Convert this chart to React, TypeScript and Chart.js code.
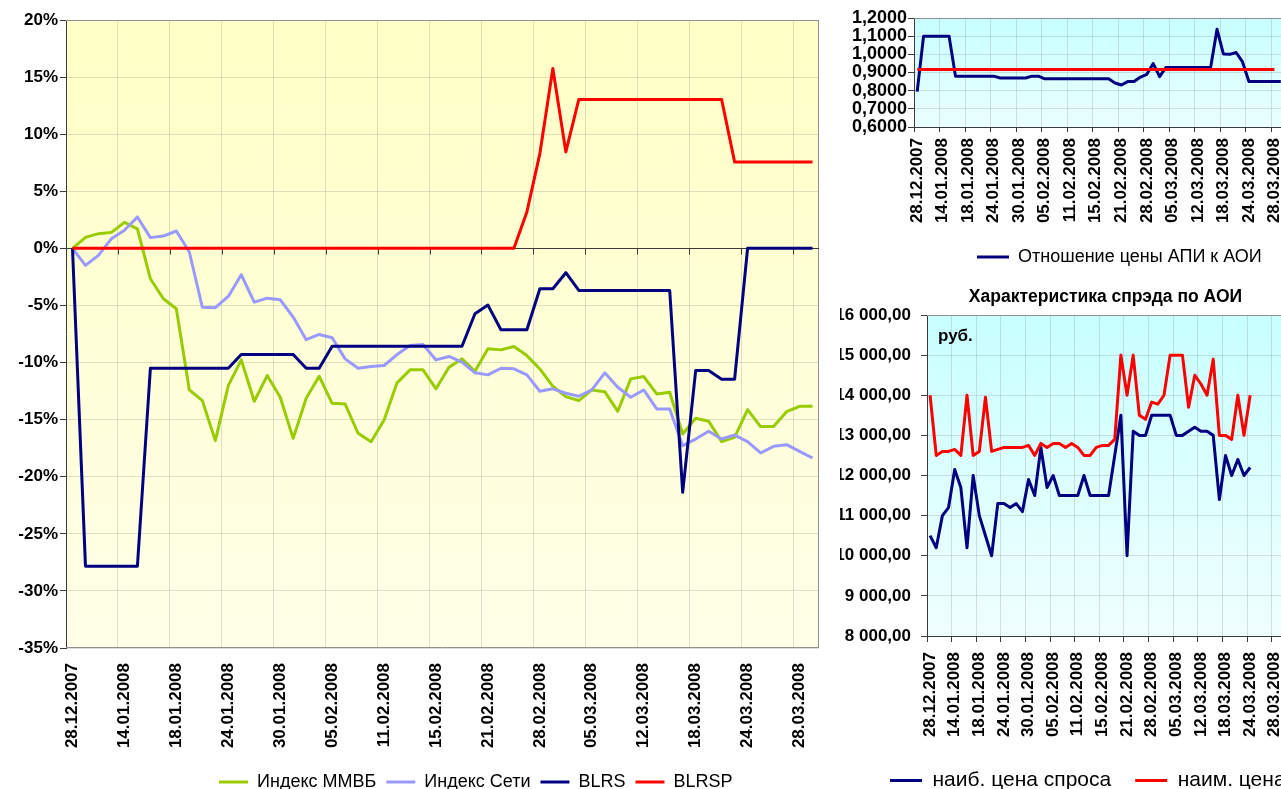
import React, { useEffect, useRef } from 'react';
import { Chart, registerables } from 'chart.js';

Chart.register(...registerables);

const FONT = "'Liberation Sans', Arial, Helvetica, sans-serif";
Chart.defaults.font.family = FONT;
Chart.defaults.color = '#000';

// ---------- data ----------
const dates = [
  '28.12.2007', '09.01.2008', '10.01.2008', '11.01.2008', '14.01.2008', '15.01.2008', '16.01.2008', '17.01.2008',
  '18.01.2008', '21.01.2008', '22.01.2008', '23.01.2008', '24.01.2008', '25.01.2008', '28.01.2008', '29.01.2008',
  '30.01.2008', '31.01.2008', '01.02.2008', '04.02.2008', '05.02.2008', '06.02.2008', '07.02.2008', '08.02.2008',
  '11.02.2008', '12.02.2008', '13.02.2008', '14.02.2008', '15.02.2008', '18.02.2008', '19.02.2008', '20.02.2008',
  '21.02.2008', '22.02.2008', '25.02.2008', '26.02.2008', '28.02.2008', '29.02.2008', '03.03.2008', '04.03.2008',
  '05.03.2008', '06.03.2008', '07.03.2008', '11.03.2008', '12.03.2008', '13.03.2008', '14.03.2008', '17.03.2008',
  '18.03.2008', '19.03.2008', '20.03.2008', '21.03.2008', '24.03.2008', '25.03.2008', '26.03.2008', '27.03.2008',
  '28.03.2008', '31.03.2008',
];

// main chart, % change
const mmvb = [
  0, 0.96, 1.29, 1.4, 2.28, 1.7, -2.66, -4.41, -5.29, -12.4,
  -13.33, -16.84, -12.02, -9.77, -13.39, -11.14, -13.04, -16.64, -13.13, -11.2,
  -13.57, -13.63, -16.2, -16.93, -15.03, -11.78, -10.64, -10.64, -12.3, -10.41,
  -9.68, -10.76, -8.8, -8.89, -8.6, -9.39, -10.56, -12.08, -12.98, -13.33,
  -12.4, -12.55, -14.27, -11.43, -11.23, -12.75, -12.6, -16.26, -14.88, -15.14,
  -16.93, -16.55, -14.12, -15.61, -15.61, -14.3, -13.83, -13.83,
];
const seti = [
  0, -1.49, -0.61, 0.85, 1.58, 2.75, 0.94, 1.08, 1.52, -0.32,
  -5.15, -5.2, -4.21, -2.31, -4.71, -4.36, -4.5, -6.02, -8.0, -7.54,
  -7.83, -9.68, -10.5, -10.35, -10.26, -9.3, -8.5, -8.42, -9.77, -9.47,
  -9.97, -10.9, -11.08, -10.5, -10.55, -11.08, -12.51, -12.3, -12.69, -12.95,
  -12.4, -10.9, -12.16, -13.04, -12.4, -14.06, -14.06, -17.28, -16.7, -16.02,
  -16.7, -16.35, -16.93, -17.92, -17.34, -17.19, -17.78, -18.36,
];
const blrs = [
  0, -27.83, -27.83, -27.83, -27.83, -27.83, -10.5, -10.5, -10.5, -10.5,
  -10.5, -10.5, -10.5, -9.3, -9.3, -9.3, -9.3, -9.3, -10.5, -10.5,
  -8.57, -8.57, -8.57, -8.57, -8.57, -8.57, -8.57, -8.57, -8.57, -8.57,
  -8.57, -5.73, -4.97, -7.13, -7.13, -7.13, -3.54, -3.54, -2.13, -3.68,
  -3.68, -3.68, -3.68, -3.68, -3.68, -3.68, -3.68, -21.37, -10.7, -10.7,
  -11.46, -11.46, 0, 0, 0, 0, 0, 0,
];
const blrsp = [
  0, 0, 0, 0, 0, 0, 0, 0, 0, 0,
  0, 0, 0, 0, 0, 0, 0, 0, 0, 0,
  0, 0, 0, 0, 0, 0, 0, 0, 0, 0,
  0, 0, 0, 0, 0, 3.19, 8.3, 15.76, 8.45, 13.04,
  13.04, 13.04, 13.04, 13.04, 13.04, 13.04, 13.04, 13.04, 13.04, 13.04,
  13.04, 7.57, 7.57, 7.57, 7.57, 7.57, 7.57, 7.57,
];
const pctTicks = { min: -35, max: 20, step: 5 };

// top right: price ratio
const ratio = [
  0.795, 1.1, 1.1, 1.1, 1.1, 1.1, 0.88, 0.88, 0.88, 0.88,
  0.88, 0.88, 0.88, 0.87, 0.87, 0.87, 0.87, 0.87, 0.88, 0.88,
  0.865, 0.865, 0.865, 0.865, 0.865, 0.865, 0.865, 0.865, 0.865, 0.865,
  0.865, 0.842, 0.831, 0.85, 0.85, 0.875, 0.89, 0.949, 0.877, 0.928,
  0.928, 0.928, 0.928, 0.928, 0.928, 0.928, 0.928, 1.138, 1.002, 1.0,
  1.01, 0.958, 0.85, 0.85, 0.85, 0.85, 0.85, 0.85,
];
const ratioAvg = [
  0.917, 0.917, 0.917, 0.917, 0.917, 0.917, 0.917, 0.917, 0.917, 0.917,
  0.917, 0.917, 0.917, 0.917, 0.917, 0.917, 0.917, 0.917, 0.917, 0.917,
  0.917, 0.917, 0.917, 0.917, 0.917, 0.917, 0.917, 0.917, 0.917, 0.917,
  0.917, 0.917, 0.917, 0.917, 0.917, 0.917, 0.917, 0.917, 0.917, 0.917,
  0.917, 0.917, 0.917, 0.917, 0.917, 0.917, 0.917, 0.917, 0.917, 0.917,
  0.917, 0.917, 0.917, 0.917, 0.917, 0.917, 0.917,
];
const ratioTicks = { min: 0.6, max: 1.2, step: 0.1 };

// bottom right: spread, rub.
const bid = [
  10500, 10200, 11000, 11200, 12150, 11700, 10200, 12000, 11000, 10500,
  10000, 11300, 11300, 11200, 11300, 11100, 11900, 11500, 12700, 11700,
  12000, 11500, 11500, 11500, 11500, 12000, 11500, 11500, 11500, 11500,
  12500, 13500, 10000, 13100, 13000, 13000, 13500, 13500, 13500, 13500,
  13000, 13000, 13100, 13200, 13100, 13100, 13000, 11400, 12500, 12000,
  12400, 12000, 12200,
];
const ask = [
  14000, 12500, 12600, 12600, 12650, 12500, 14000, 12500, 12600, 13950,
  12600, 12650, 12700, 12700, 12700, 12700, 12750, 12500, 12800, 12700,
  12800, 12800, 12700, 12800, 12700, 12500, 12500, 12700, 12750, 12750,
  12900, 15000, 14000, 15000, 13500, 13400, 13830, 13780, 14000, 15000,
  15000, 15000, 13700, 14500, 14280, 14000, 14900, 13000, 13000, 12900,
  14000, 13000, 14000,
];
const spreadTicks = { min: 8000, max: 16000, step: 1000 };

// ---------- styling ----------
const GRID = 'rgba(110,110,110,0.22)';
const FRAME = '#909090';
const AXIS = '#3a3a3a';
const CLEAR = 'rgba(0,0,0,0)';
const GREEN = '#99cc00';
const LILAC = '#9999ff';
const NAVY = '#000080';
const RED = '#ff0000';

const isBoundary = (c: any, withZero: boolean) =>
  typeof c.index === 'number' && c.index < dates.length && c.index % 4 === 0 && (withZero || c.index > 0);

const decor = {
  id: 'decor',
  beforeDraw(chart: any, _args: any, o: any) {
    const lg = chart.legend;
    if (lg && typeof o.legendX === 'number') {
      const w = lg.right - lg.left;
      lg.left = o.legendX - lg.options.labels.padding;
      lg.right = lg.left + w;
    }
    const { ctx, chartArea: a } = chart;
    const g = ctx.createLinearGradient(0, a.top, 0, a.bottom);
    g.addColorStop(0, o.bgTop);
    g.addColorStop(1, o.bgBottom);
    ctx.save();
    ctx.fillStyle = g;
    ctx.fillRect(a.left, a.top, a.right - a.left, a.bottom - a.top);
    ctx.restore();
  },
  beforeDatasetsDraw(chart: any, _args: any, o: any) {
    const { ctx, chartArea: a } = chart;
    ctx.save();
    ctx.lineWidth = 1;
    ctx.strokeStyle = FRAME;
    ctx.beginPath();
    ctx.moveTo(a.left, Math.round(a.top) + 0.5);
    ctx.lineTo(a.right, Math.round(a.top) + 0.5);
    ctx.moveTo(Math.round(a.right) - 0.5, a.top);
    ctx.lineTo(Math.round(a.right) - 0.5, a.bottom);
    if (o.frameBottom) {
      ctx.moveTo(a.left, Math.round(a.bottom) - 0.5);
      ctx.lineTo(a.right, Math.round(a.bottom) - 0.5);
    }
    ctx.stroke();
    if (o.zeroLine) {
      const ys = chart.scales.y;
      const xs = chart.scales.x;
      const y = Math.round(ys.getPixelForValue(0)) + 0.5;
      ctx.strokeStyle = AXIS;
      ctx.beginPath();
      ctx.moveTo(a.left, y);
      ctx.lineTo(a.right, y);
      for (let i = 4; i < dates.length; i += 4) {
        const x = Math.round((xs.getPixelForValue(i - 1) + xs.getPixelForValue(i)) / 2) + 0.5;
        ctx.moveTo(x, y);
        ctx.lineTo(x, y + 6);
      }
      ctx.stroke();
    }
    if (o.note) {
      ctx.fillStyle = '#000';
      ctx.font = `bold 17px ${FONT}`;
      ctx.textBaseline = 'middle';
      ctx.textAlign = 'left';
      ctx.fillText(o.note, a.left + 11, a.top + 21);
    }
    ctx.restore();
  },
};

const legendCfg = (size: number, padding: number, boxWidth: number, filter?: (item: any) => boolean) => ({
  position: 'bottom',
  align: 'start',
  labels: {
    boxWidth,
    boxHeight: 3,
    padding,
    color: '#000',
    font: { size, family: FONT },
    sort: (a: any, b: any) => a.datasetIndex - b.datasetIndex,
    filter: filter || (() => true),
    generateLabels: (chart: any) =>
      (Chart.defaults.plugins.legend.labels as any).generateLabels(chart).map((l: any) => ({ ...l, lineWidth: 0 })),
  },
});

const line = (label: string, data: number[], color: string, order: number) => ({
  label,
  data,
  borderColor: color,
  backgroundColor: color,
  borderWidth: 3,
  pointRadius: 0,
  pointHoverRadius: 0,
  tension: 0,
  fill: false,
  order,
  borderJoinStyle: 'round',
});

const xAxis = (height: number, padding: number, tickLength: number) => ({
  type: 'category',
  offset: true,
  grid: {
    offset: true,
    drawTicks: tickLength > 0,
    tickLength,
    color: (c: any) => (isBoundary(c, false) ? GRID : CLEAR),
    tickColor: (c: any) => (isBoundary(c, true) ? AXIS : CLEAR),
  },
  border: tickLength > 0 ? { display: true, color: AXIS, width: 1 } : { display: false },
  ticks: {
    autoSkip: false,
    minRotation: 90,
    maxRotation: 90,
    padding,
    color: '#000',
    font: { size: 17, weight: 'bold', family: FONT },
    callback: (_v: any, i: number) => (i % 4 === 0 ? dates[i] : ''),
  },
  afterFit: (s: any) => {
    s.height = height;
    s.paddingLeft = 0;
    s.paddingRight = 0;
  },
});

const yAxis = (
  t: { min: number; max: number; step: number },
  width: number,
  padding: number,
  size: number,
  fmt: (v: number) => string,
) => ({
  min: t.min,
  max: t.max,
  grid: { color: GRID, tickColor: AXIS, tickLength: 6, drawTicks: true },
  border: { display: true, color: AXIS, width: 1 },
  ticks: {
    stepSize: t.step,
    autoSkip: false,
    padding,
    color: '#000',
    font: { size, weight: 'bold', family: FONT },
    callback: (v: any) => fmt(Number(v)),
  },
  afterFit: (s: any) => {
    s.width = width;
    s.paddingTop = 0;
    s.paddingBottom = 0;
  },
});

const fmtRub = (v: number) => {
  const r = Math.round(v);
  const th = Math.floor(r / 1000);
  const rest = String(r % 1000).padStart(3, '0');
  return `${th} ${rest},00`;
};

export default function App() {
  const aRef = useRef<HTMLCanvasElement>(null);
  const bRef = useRef<HTMLCanvasElement>(null);
  const cRef = useRef<HTMLCanvasElement>(null);

  useEffect(() => {
    const charts: Chart[] = [];

    charts.push(
      new Chart(aRef.current as HTMLCanvasElement, {
        type: 'line',
        data: {
          labels: dates,
          datasets: [
            line('Индекс ММВБ', mmvb, GREEN, 4),
            line('Индекс Сети', seti, LILAC, 3),
            line('BLRS', blrs, NAVY, 2),
            line('BLRSP', blrsp, RED, 1),
          ] as any,
        },
        options: {
          responsive: false,
          animation: false,
          events: [],
          layout: { padding: { top: 20, right: 11, left: 0, bottom: 0 } } as any,
          plugins: {
            legend: legendCfg(18, 10, 29) as any,
            tooltip: { enabled: false },
            decor: { bgTop: '#ffffc6', bgBottom: '#ffffe8', frameBottom: true, zeroLine: true, legendX: 219 },
          } as any,
          scales: {
            x: xAxis(115, 15, 0) as any,
            y: yAxis(pctTicks, 66, 2, 17, (v) => `${Math.round(v)}%`) as any,
          },
        },
        plugins: [decor],
      }),
    );

    charts.push(
      new Chart(bRef.current as HTMLCanvasElement, {
        type: 'line',
        data: {
          labels: dates,
          datasets: [
            line('Отношение цены АПИ к АОИ', ratio, NAVY, 2),
            line('Среднее', ratioAvg, RED, 1),
          ] as any,
        },
        options: {
          responsive: false,
          animation: false,
          events: [],
          layout: { padding: { top: 18, right: 0, left: 0, bottom: 0 } } as any,
          plugins: {
            legend: legendCfg(18, 10, 32, (item: any) => item.datasetIndex === 0) as any,
            tooltip: { enabled: false },
            decor: { bgTop: '#c8ffff', bgBottom: '#eaffff', legendX: 277 },
          } as any,
          scales: {
            x: xAxis(111, 6, 5) as any,
            y: yAxis(ratioTicks, 214, 1, 18, (v) => v.toFixed(4).replace('.', ',')) as any,
          },
        },
        plugins: [decor],
      }),
    );

    charts.push(
      new Chart(cRef.current as HTMLCanvasElement, {
        type: 'line',
        data: {
          labels: dates,
          datasets: [
            line('наиб. цена спроса', bid, NAVY, 2),
            line('наим. цена предл.', ask, RED, 1),
          ] as any,
        },
        options: {
          responsive: false,
          animation: false,
          events: [],
          layout: { padding: { top: 0, right: 0, left: 0, bottom: 0 } } as any,
          plugins: {
            title: {
              display: true,
              text: 'Характеристика спрэда по АОИ',
              fullSize: false,
              color: '#000',
              font: { size: 17.5, weight: 'bold', family: FONT },
              padding: { top: 7, bottom: 7 },
            },
            legend: legendCfg(21, 24, 32) as any,
            tooltip: { enabled: false },
            decor: { bgTop: '#c8ffff', bgBottom: '#f0ffff', legendX: 190, note: 'руб.' },
          } as any,
          scales: {
            x: xAxis(110, 10, 6) as any,
            y: yAxis(spreadTicks, 227, 10, 17, fmtRub) as any,
          },
        },
        plugins: [decor],
      }),
    );

    return () => {
      charts.forEach((c) => c.destroy());
    };
  }, []);

  return (
    <div
      style={{
        position: 'fixed',
        left: 0,
        top: 0,
        width: 1281,
        height: 789,
        overflow: 'hidden',
        background: '#fff',
      }}
    >
      <canvas ref={aRef} width={830} height={801} style={{ position: 'absolute', left: 0, top: 0 }} />
      <div style={{ position: 'absolute', left: 840, top: 0, width: 441, height: 789, overflow: 'hidden' }}>
        <canvas ref={bRef} width={584} height={276} style={{ position: 'absolute', left: -140, top: 0 }} />
        <canvas ref={cRef} width={584} height={521} style={{ position: 'absolute', left: -140, top: 280 }} />
      </div>
    </div>
  );
}
